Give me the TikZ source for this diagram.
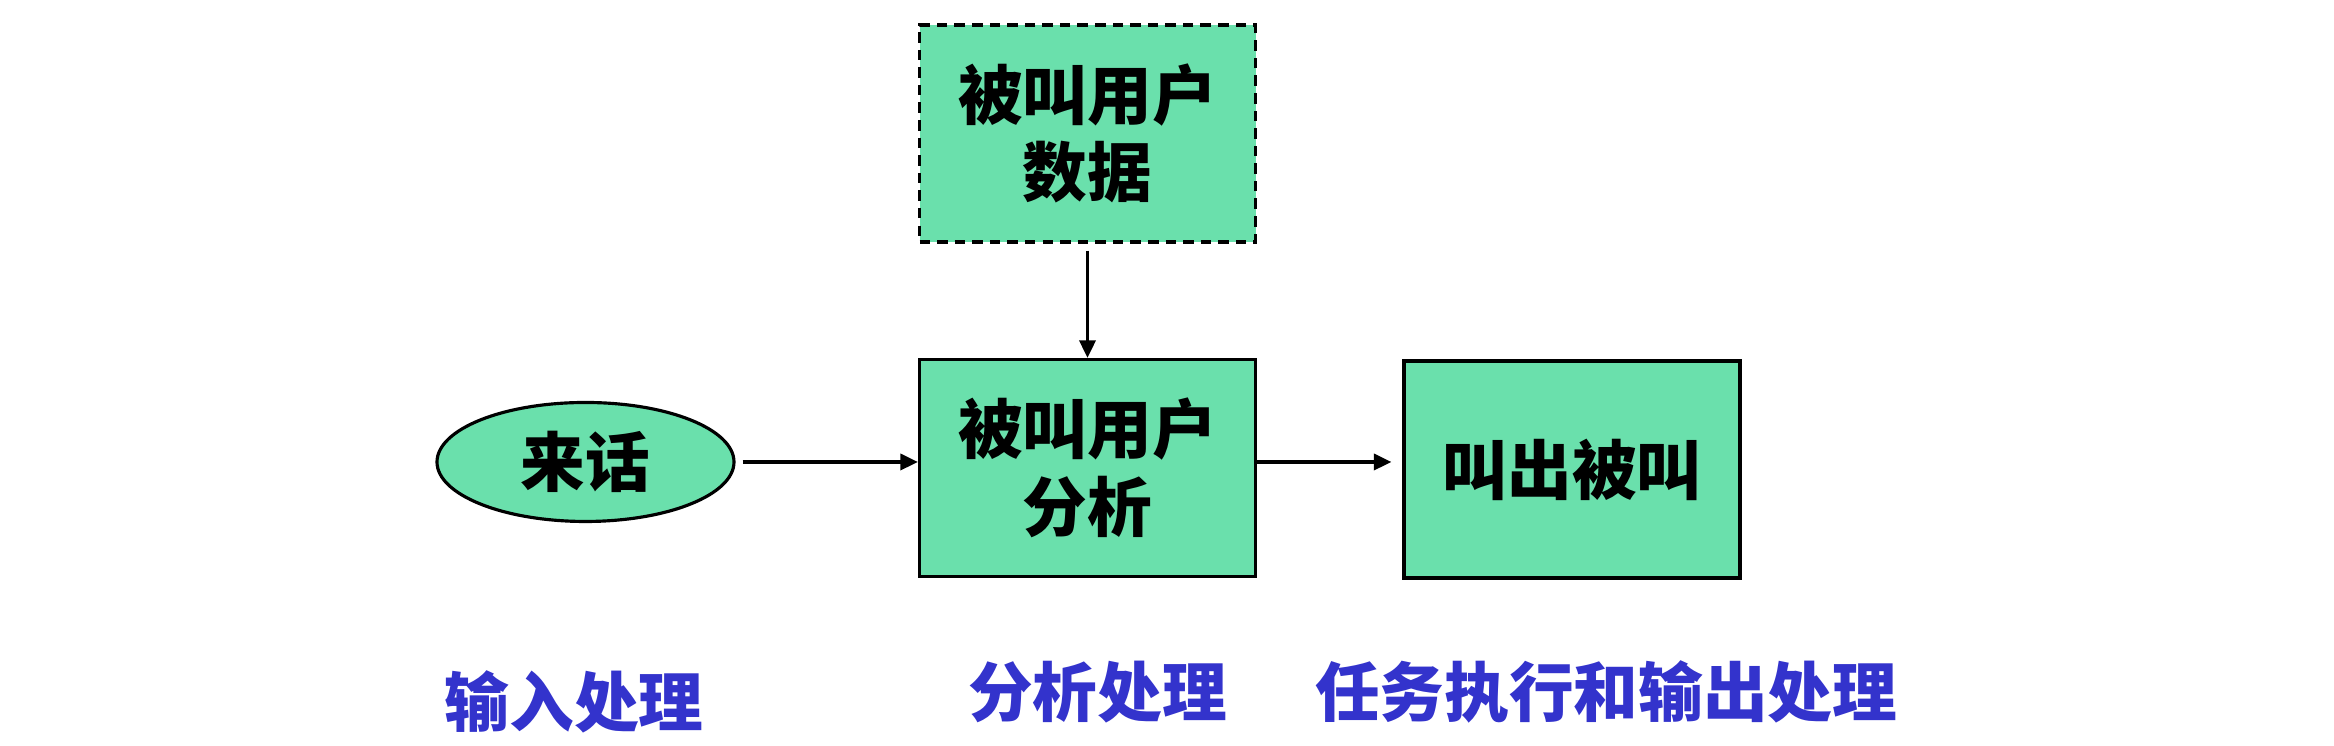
\documentclass[tikz,border=0pt]{standalone}
\usepackage{fontspec}
\newfontfamily\cjk{Noto Sans CJK SC}
\usetikzlibrary{shapes.geometric,arrows.meta}
\definecolor{boxgreen}{RGB}{106,224,172}
\definecolor{stageblue}{RGB}{51,51,204}
\tikzset{
  box/.style={draw=black,fill=boxgreen,line width=0.9pt,minimum width=3.36cm,minimum height=2.17cm,align=center,inner sep=0pt},
  oval/.style={ellipse,draw=black,fill=boxgreen,line width=0.9pt,minimum width=2.97cm,minimum height=1.19cm,inner sep=0pt},
  stage/.style={text=stageblue},
  flow/.style={line width=0.9pt,-{Triangle[length=5pt,width=4.6pt]}}
}
\begin{document}
\begin{tikzpicture}[font=\cjk\bfseries\fontsize{18.4}{22}\selectfont]
\useasboundingbox (0,0) rectangle (23.34,7.46);
% boxes
\node[box,dashed,dash pattern=on 3pt off 2pt] (data) at (10.875,6.125) {被叫用户\\数据};
\node[box] (ana) at (10.875,2.78) {被叫用户\\分析};
\node[box] (out) at (15.72,2.765) {叫出被叫};
\node[oval] (call) at (5.855,2.84) {来话};
% arrows
\draw[flow,shorten <=0.07cm] (call.east) -- (call.east -| ana.west);
\draw[flow,shorten <=0.07cm] (data.south) -- (ana.north);
\draw[flow,shorten >=0.11cm] (ana.east |- call) -- (out.west |- call);
% stages
\node[stage] (s1) at (5.74,0.44) {输入处理};
\node[stage] (s2) at (10.975,0.54) {分析处理};
\node[stage] (s3) at (16.06,0.54) {任务执行和输出处理};
\end{tikzpicture}
\end{document}
